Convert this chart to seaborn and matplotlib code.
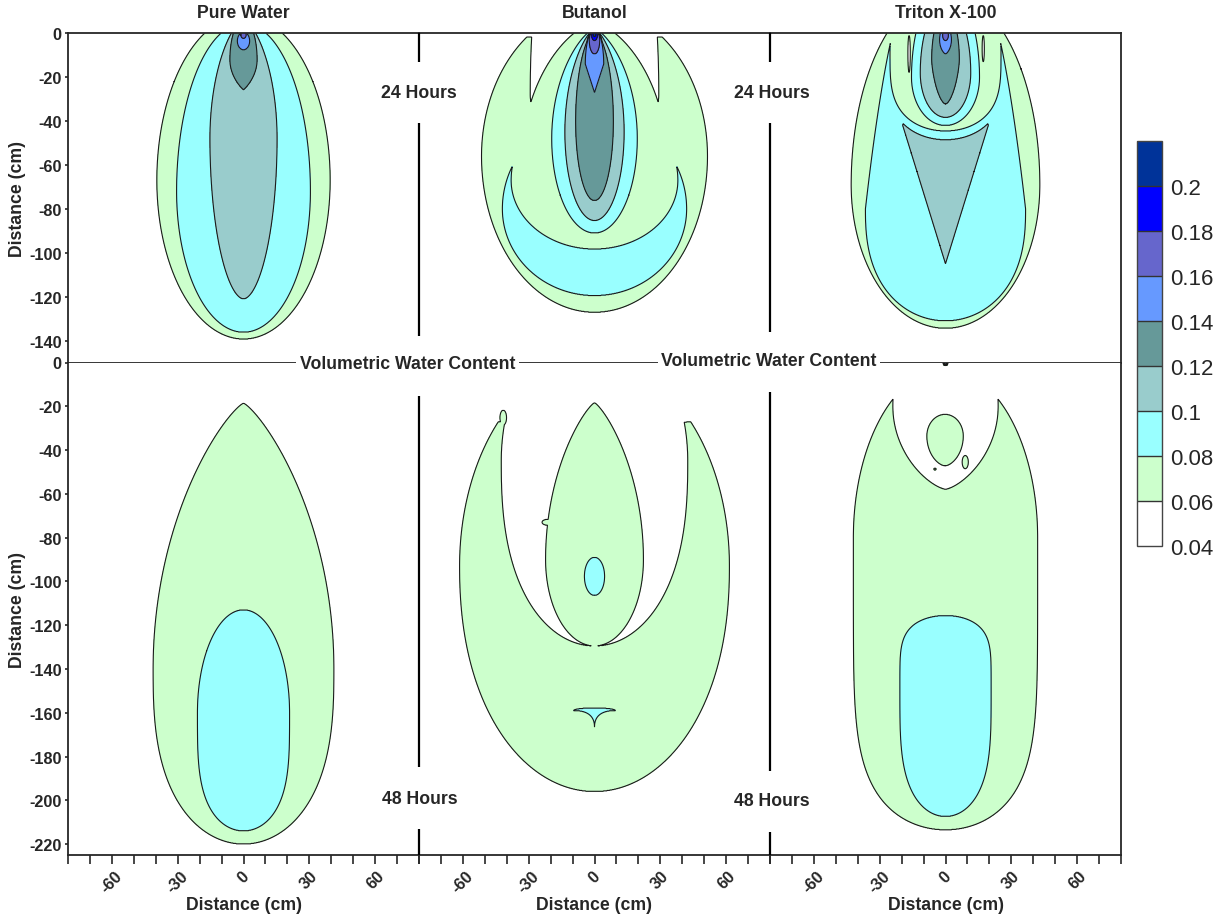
import numpy as np
import matplotlib
matplotlib.use("Agg")
import matplotlib.pyplot as plt
from matplotlib.colors import ListedColormap, BoundaryNorm
import seaborn as sns

# ---------------------------------------------------------------- data
# volumetric water content classes
levels = [0.04, 0.06, 0.08, 0.10, 0.12, 0.14, 0.16, 0.18, 0.20, 0.22]
band_colors = ["#ffffff", "#ccffcc", "#99ffff", "#99cccc", "#669999",
               "#6699ff", "#6666cc", "#0000ff", "#003399"]
level_labels = ["0.04", "0.06", "0.08", "0.1", "0.12", "0.14", "0.16", "0.18", "0.2"]

treatments = ["Pure Water", "Butanol", "Triton X-100"]
times = ["24 Hours", "48 Hours"]
depth_limits = [150, 225]                      # cm below the emitter
x_ticks = list(range(-80, 81, 10))
x_tick_labels = [-60, -30, 0, 30, 60]
y_ticks = [list(range(0, -141, -20)), list(range(0, -221, -20))]

# Wetting-front outlines, one row per contour body:
# (op, water content, centre x, top, depth of widest point, bottom, half width,
#  upper profile n, upper profile p, lower profile n, lower profile p)
# "add" raises the water content inside the body, "cap" lowers it.
pure_water_24h = [
    ("add", 0.06, 0.0, 8.0, -67.0, -139.3, 39.5, 2, 0.5, 2, 0.5),
    ("add", 0.08, 0.0, 4.5, -72.0, -136.2, 30.5, 2, 0.5, 2, 0.5),
    ("add", 0.10, 0.0, 6.0, -48.0, -121.0, 15.3, 2, 0.65, 2, 0.55),
    ("add", 0.12, 0.0, 5.9, -12.0, -25.7, 6.2, 2, 0.5, 2, 0.9),
    ("add", 0.14, 0.0, 0.5, -3.5, -7.5, 2.8, 2, 0.5, 2, 0.5),
    ("add", 0.16, 0.0, 0.5, -0.8, -2.3, 1.2, 2, 0.5, 2, 0.5),
]
butanol_24h = [
    ("add", 0.06, 0.0, 11.8, -56.0, -127.1, 51.5, 2, 0.5, 2, 0.5),
    ("cap", 0.06, 0.0, 30.0, -28.0, -50.0, 29.3, 2, 0.1, 2, 0.5),
    ("cap", 0.06, 0.0, 10.0, 0.0, -2.2, 46.0, 2, 0.5, 2, 0.5),
    ("add", 0.06, 0.0, 4.7, -58.0, -100.0, 33.0, 2, 0.65, 2, 0.5),
    ("add", 0.08, 0.0, -37.0, -80.0, -119.5, 42.0, 2, 0.5, 2, 0.5),
    ("cap", 0.08, 0.0, -30.0, -67.0, -98.3, 38.0, 2, 0.5, 2, 0.5),
    ("add", 0.08, 0.0, 2.0, -48.0, -91.0, 19.5, 2, 0.7, 2, 0.5),
    ("add", 0.10, 0.0, 2.0, -45.0, -85.3, 13.5, 2, 0.7, 2, 0.5),
    ("add", 0.12, 0.0, 1.0, -40.0, -76.2, 8.6, 2, 0.6, 2, 0.5),
    ("add", 0.14, 0.0, 2.0, -14.0, -27.0, 4.2, 2, 0.5, 1, 1),
    ("add", 0.16, 0.0, 1.0, -3.0, -9.4, 2.4, 2, 0.5, 2, 0.5),
    ("add", 0.18, 0.0, 0.5, -1.0, -3.3, 1.3, 2, 0.5, 2, 0.5),
    ("add", 0.20, 0.0, 0.3, -0.5, -1.5, 0.6, 2, 0.5, 2, 0.5),
]
triton_24h = [
    ("add", 0.06, 0.0, 19.0, -69.0, -134.4, 43.0, 2, 0.5, 2, 0.5),
    ("add", 0.08, 0.0, 40.0, -80.0, -131.0, 36.5, 1, 0.375, 2.5, 0.5),
    ("add", 0.10, 0.0, -36.0, -42.0, -105.0, 19.5, 2, 0.5, 1, 1),
    ("cap", 0.10, 0.0, 30.0, -8.7, -48.5, 27.0, 2, 0.5, 3.5, 0.5),
    ("cap", 0.08, 0.0, 30.0, -8.7, -44.5, 25.3, 2, 0.5, 3.5, 0.5),
    ("cap", 0.06, -16.6, -1.0, -9.0, -17.8, 0.55, 2, 0.5, 2, 0.5),
    ("cap", 0.06, 17.2, -1.0, -7.0, -13.0, 0.5, 2, 0.5, 2, 0.5),
    ("add", 0.08, 0.0, 20.8, -20.0, -42.0, 15.5, 2, 0.5, 2, 0.5),
    ("add", 0.10, 0.0, 13.9, -18.0, -38.3, 11.5, 2, 0.5, 2, 0.5),
    ("add", 0.12, 0.0, 10.0, -12.0, -32.2, 6.3, 2, 0.5, 1.5, 0.6),
    ("add", 0.14, 0.0, 3.0, -3.0, -9.4, 2.7, 2, 0.5, 2, 0.7),
    ("add", 0.16, 0.0, 2.0, -1.0, -3.3, 1.3, 2, 0.5, 2, 0.5),
]
pure_water_48h = [
    ("add", 0.06, 0.0, -18.6, -140.0, -220.0, 41.2, 2, 0.8, 2.7, 0.5),
    ("add", 0.08, 0.0, -113.0, -160.0, -214.0, 21.0, 2, 0.5, 3.5, 0.5),
]
butanol_48h = [
    ("add", 0.06, 0.0, 1.0, -93.0, -196.0, 61.5, 2, 0.5, 2.2, 0.5),
    ("cap", 0.06, 0.0, 20.0, -45.0, -129.5, 42.5, 2, 0.5, 2.5, 0.5),
    ("cap", 0.06, 0.0, 20.0, -20.0, -29.0, 70.0, 2, 0.5, 2, 0.5),
    ("add", 0.06, 0.0, -18.4, -90.0, -129.5, 22.3, 2, 0.8, 2, 0.5),
    ("add", 0.06, -41.6, -21.8, -25.2, -28.6, 1.5, 2, 0.5, 2, 0.5),
    ("add", 0.06, -21.6, -71.7, -73.0, -74.3, 2.3, 2, 0.5, 2, 0.5),
    ("add", 0.08, 0.0, -89.0, -97.7, -106.4, 4.6, 2, 0.5, 2, 0.5),
    ("add", 0.08, 0.0, -157.8, -159.0, -166.5, 9.5, 2, 0.5, 0.5, 2),
]
triton_48h = [
    ("add", 0.06, 0.0, -3.0, -80.0, -213.5, 42.0, 2, 0.5, 6, 0.5),
    ("cap", 0.06, 0.0, 30.0, -20.0, -57.9, 24.0, 2, 0.5, 2, 0.7),
    ("add", 0.06, -0.2, -23.7, -33.6, -47.2, 8.3, 2, 0.5, 2, 0.6),
    ("add", 0.06, 9.0, -42.5, -45.5, -48.5, 1.4, 2, 0.5, 2, 0.5),
    ("add", 0.06, -4.8, -48.2, -48.7, -49.2, 0.5, 2, 0.5, 2, 0.5),
    ("add", 0.08, 0.0, -115.6, -150.0, -207.4, 20.8, 5, 0.5, 3.5, 0.5),
    ("add", 0.12, 0.0, 0.6, -0.3, -1.3, 0.4, 2, 0.5, 1, 1),
]
panels = [[pure_water_24h, butanol_24h, triton_24h],
          [pure_water_48h, butanol_48h, triton_48h]]


def water_content(bodies, x, y, slope=0.08):
    """Build the water-content grid from the contour bodies.

    Inside a body the value rises just above its class boundary; outside it
    falls off quickly with horizontal distance (cm) from the outline.
    """
    X, Y = np.meshgrid(x, y)
    theta = np.full(X.shape, 0.05)
    for op, lev, x0, top, mid, bot, half, nt, pt, nb, pb in bodies:
        w = np.full(Y.shape, -50.0)
        up = (Y >= mid) & (Y < top)
        t = (Y[up] - mid) / (top - mid)
        w[up] = half * (1.0 - t ** nt) ** pt
        dn = (Y < mid) & (Y > bot)
        t = (mid - Y[dn]) / (mid - bot)
        w[dn] = half * (1.0 - t ** nb) ** pb
        s = np.minimum(slope * (w - np.abs(X - x0)), 0.0099)
        if op == "add":
            theta = np.maximum(theta, lev + s)
        else:
            theta = np.minimum(theta, lev - s)
    return X, Y, theta


# ---------------------------------------------------------------- style
sns.set_theme(style="white")
plt.rcParams["font.family"] = ["Liberation Sans", "DejaVu Sans"]
plt.rcParams["font.weight"] = "bold"
plt.rcParams["axes.labelweight"] = "bold"
plt.rcParams["axes.unicode_minus"] = False

cmap = ListedColormap(sns.color_palette(band_colors))
norm = BoundaryNorm(levels, cmap.N)

FW, FH = 1230, 920
fig = plt.figure(figsize=(FW / 100, FH / 100), dpi=100, facecolor="white")


def box(x0, y0, x1, y1):
    return [x0 / FW, 1 - y1 / FH, (x1 - x0) / FW, (y1 - y0) / FH]


col_edges = [68, 419, 770, 1121]
row_edges = [34.3, 363.5, 856.0]
frame = "#262626"
text_size = 12.7
tick_size = 11.7

x = np.linspace(-80, 80, 801)
cf = None
for i in range(2):
    y = np.linspace(-depth_limits[i], 0, depth_limits[i] * 5 + 1)
    for j in range(3):
        ax = fig.add_axes(box(col_edges[j], row_edges[i],
                              col_edges[j + 1], row_edges[i + 1]))
        X, Y, Z = water_content(panels[i][j], x, y)
        cf = ax.contourf(X, Y, Z, levels=levels, cmap=cmap, norm=norm)
        ax.contour(X, Y, Z, levels=levels[1:-1], colors="#1a1a1a",
                   linewidths=0.8)
        ax.set_xlim(-80, 80)
        ax.set_ylim(-depth_limits[i], 0)
        ax.set_facecolor("white")

        show = {"top": i == 0, "bottom": True, "left": j == 0, "right": j == 2}
        for side, sp in ax.spines.items():
            sp.set_visible(show[side])
            sp.set_color(frame)
            sp.set_linewidth(1.3)
            sp.set_zorder(5)

        if i == 1:
            ax.set_xticks(x_ticks)
            ax.set_xticklabels([str(v) if v in x_tick_labels else ""
                                for v in x_ticks])
            ax.tick_params(axis="x", bottom=True, direction="out", length=6.5,
                           width=1.2, color=frame, pad=3, labelsize=tick_size,
                           labelrotation=45)
            ax.set_xlabel("Distance (cm)", fontsize=text_size,
                          fontweight="bold")
            ax.xaxis.label.set_va("center")
            ax.xaxis.set_label_coords(0.5, -0.0995)
        else:
            ax.set_xticks([])

        if j == 0:
            ax.set_yticks(y_ticks[i])
            ax.tick_params(axis="y", left=True, direction="out", length=2.5,
                           width=1.2, color=frame, pad=2, labelsize=tick_size)
            ax.set_ylabel("Distance (cm)", fontsize=text_size,
                          fontweight="bold")
            ax.yaxis.label.set_va("center")
            ax.yaxis.set_label_coords(-50 / 351, 0.5)
        else:
            ax.set_yticks([])

# ---------------------------------------------------------------- colour bar
cax = fig.add_axes(box(1137, 141.7, 1162, 546.7))
cb = fig.colorbar(cf, cax=cax, ticks=levels[:-1], drawedges=True)
cb.ax.set_yticklabels(level_labels, fontsize=16, fontweight="normal")
cb.ax.minorticks_off()
cb.ax.tick_params(which="both", length=0, pad=6, right=True)
cb.outline.set_edgecolor("#444444")
cb.outline.set_linewidth(1.0)
cb.dividers.set_color("#333333")
cb.dividers.set_linewidth(1.0)

# ---------------------------------------------------------------- annotations
ov = fig.add_axes([0, 0, 1, 1])
ov.set_xlim(0, FW)
ov.set_ylim(FH, 0)
ov.axis("off")

for xc, name in zip([243.5, 594.5, 945.5], treatments):
    ov.text(xc, 14, name, ha="center", va="center", fontsize=text_size,
            fontweight="bold")

separators = [
    (419, [(34.3, 63), (124, 336.5), (397, 768), (830, 856)]),
    (770, [(34.3, 63), (124, 333), (393, 772), (833, 856)]),
]
for xs, segs in separators:
    for y0, y1 in segs:
        ov.plot([xs, xs], [y0, y1], color="black", lw=1.6,
                solid_capstyle="butt")

for xc, yc in [(419, 93), (772, 93)]:
    ov.text(xc, yc, times[0], ha="center", va="center", fontsize=text_size,
            fontweight="bold")
for xc, yc in [(420, 800), (772, 802)]:
    ov.text(xc, yc, times[1], ha="center", va="center", fontsize=text_size,
            fontweight="bold")
for xc, yc in [(407.5, 365), (769, 362)]:
    ov.text(xc, yc, "Volumetric Water Content", ha="center", va="center",
            fontsize=text_size, fontweight="bold",
            bbox=dict(facecolor="white", edgecolor="none", pad=2.5))

fig.savefig("out.png", dpi=100, facecolor="white")
